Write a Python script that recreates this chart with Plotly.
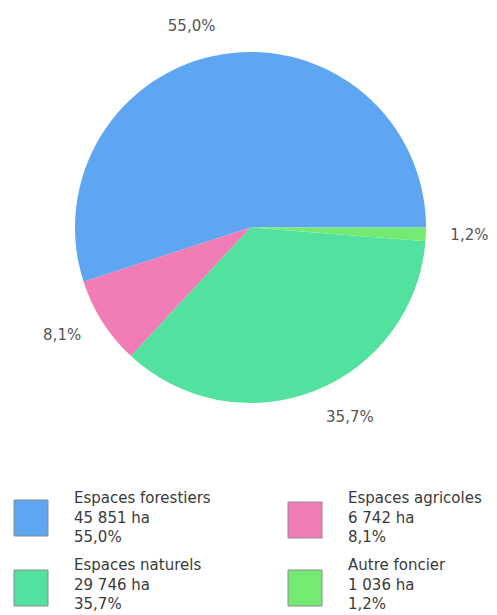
import plotly.graph_objects as go

# données
categories = ["Espaces forestiers", "Espaces agricoles", "Espaces naturels", "Autre foncier"]
surfaces_ha = [45851, 6742, 29746, 1036]
couleurs = ["#5ea6f1", "#f27cb6", "#52e19e", "#74ea72"]

# la page html garde la marge de 8px du body : on décale tout
OFF = 8
W, H = 497 - OFF, 615 - OFF
total = sum(surfaces_ha)
POLICE = "DejaVu Sans, Arial"


def px_x(x):
    return (x - OFF) / W


def px_y(y):
    return 1 - (y - OFF) / H


def fmt_ha(v):
    return f"{v:,}".replace(",", " ") + " ha"


def fmt_pct(v):
    return f"{100 * v / total:.1f}".replace(".", ",") + "%"


# premier secteur : du 3 h vers le haut, sens anti-horaire
rot = 90 - 360 * surfaces_ha[0] / total

fig = go.Figure()

# camembert visible
fig.add_trace(go.Pie(
    labels=categories,
    values=surfaces_ha,
    sort=False,
    direction="counterclockwise",
    rotation=rot,
    marker=dict(colors=couleurs, line=dict(width=0)),
    textinfo="none",
    hoverinfo="skip",
    showlegend=False,
    domain=dict(x=[px_x(75), px_x(426)], y=[px_y(403), px_y(52)]),
))

# camembert transparent un peu plus grand, juste pour éloigner les étiquettes
marge = 20
fig.add_trace(go.Pie(
    labels=categories,
    values=surfaces_ha,
    sort=False,
    direction="counterclockwise",
    rotation=rot,
    marker=dict(colors=["rgba(0,0,0,0)"] * 4, line=dict(width=0)),
    textposition="outside",
    texttemplate="%{percent:.1%}",
    textfont=dict(size=15, color="#555555", family=POLICE),
    hoverinfo="skip",
    showlegend=False,
    domain=dict(x=[px_x(75 - marge), px_x(426 + marge)],
                y=[px_y(403 + marge), px_y(52 - marge)]),
))

# légende maison : carrés + 3 lignes de texte
# (x carré, centre carré, centre texte)
legend_pos = [(14, 518, 517), (288, 520, 517), (14, 588, 584), (288, 588, 584)]
shapes = []
annotations = []
for cat, val, col, (lx, cy, ty) in zip(categories, surfaces_ha, couleurs, legend_pos):
    shapes.append(dict(
        type="rect", xref="paper", yref="paper",
        x0=px_x(lx), x1=px_x(lx + 34), y0=px_y(cy + 18), y1=px_y(cy - 18),
        fillcolor=col, line=dict(color="#8a8a8a", width=1),
    ))
    annotations.append(dict(
        xref="paper", yref="paper", x=px_x(lx + 58), y=px_y(ty),
        xanchor="left", yanchor="middle", align="left", showarrow=False,
        text=f"{cat}<br>{fmt_ha(val)}<br>{fmt_pct(val)}",
        font=dict(size=15, color="#3a3a3a", family=POLICE),
    ))

fig.update_layout(
    width=W, height=H,
    margin=dict(l=0, r=0, t=0, b=0),
    paper_bgcolor="white",
    plot_bgcolor="white",
    separators=", ",
    shapes=shapes,
    annotations=annotations,
)

fig.write_html("out.html")
